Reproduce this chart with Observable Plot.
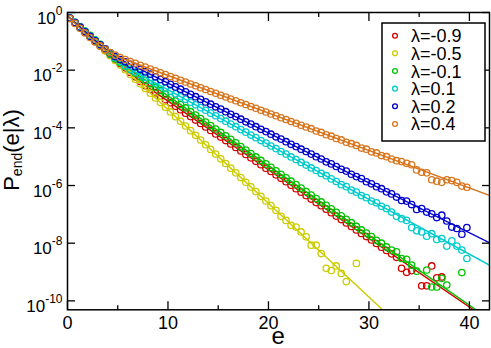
<!DOCTYPE html>
<html><head><meta charset="utf-8">
<script src="https://cdn.jsdelivr.net/npm/d3@7"></script>
<script src="https://cdn.jsdelivr.net/npm/@observablehq/plot@0.6"></script>
<style>body{margin:0;background:#fff} svg{display:block}</style>
</head><body><div id="chart"></div>
<script>
// bin centres of e
const eBins = [0.25,0.75,1.25,1.75,2.25,2.75,3.25,3.75,4.25,4.75,5.25,5.75,6.25,6.75,7.25,7.75,8.25,8.75,9.25,9.75,
 10.25,10.75,11.25,11.75,12.25,12.75,13.25,13.75,14.25,14.75,15.25,15.75,16.25,16.75,17.25,17.75,18.25,18.75,19.25,19.75,
 20.25,20.75,21.25,21.75,22.25,22.75,23.25,23.75,24.25,24.75,25.25,25.75,26.25,26.75,27.25,27.75,28.25,28.75,29.25,29.75,
 30.25,30.75,31.25,31.75,32.25,32.75,33.25,33.75,34.25,34.75,35.25,35.75,36.25,36.75,37.25,37.75,38.25,38.75,39.25,39.75];

const seriesNames = ["λ=-0.9","λ=-0.5","λ=-0.1","λ=0.1","λ=0.2","λ=0.4"];
const seriesColors = ["#d40000","#cccc00","#00c400","#00cccc","#0000cc","#d8761e"];

// log10 P_end values at eBins (null = no count)
const logP_m09 = [-0.20,-0.355,-0.51,-0.665,-0.82,-0.98,-1.14,-1.30,-1.46,-1.61,-1.77,-1.92,-2.08,-2.23,-2.39,-2.54,
 -2.66,-2.78,-2.90,-3.02,-3.13,-3.25,-3.37,-3.49,-3.61,-3.73,-3.85,-3.97,-4.09,-4.21,-4.32,-4.44,-4.56,-4.68,-4.80,-4.92,
 -5.04,-5.16,-5.28,-5.40,-5.51,-5.63,-5.75,-5.87,-5.99,-6.11,-6.23,-6.35,-6.47,-6.59,-6.70,-6.82,-6.94,-7.06,-7.18,-7.30,
 -7.42,-7.54,-7.66,-7.77,-7.89,-8.01,-8.14,-8.25,-8.37,-8.49,
 -8.87,-9.01,-8.95,null,-9.48,-9.48,-8.79,-9.20,-9.17,null,null,null,null,null];
const logP_m05 = [-0.198,-0.361,-0.523,-0.686,-0.848,-1.011,-1.173,-1.336,-1.498,-1.661,-1.823,-1.986,-2.148,-2.311,-2.473,
 -2.636,-2.798,-2.961,-3.123,-3.286,-3.448,-3.611,-3.773,-3.936,-4.098,-4.261,-4.423,-4.586,-4.748,-4.911,-5.073,-5.236,
 -5.398,-5.561,-5.723,-5.886,-6.048,-6.211,-6.373,-6.536,-6.698,-6.861,
 -7.07,-7.21,-7.38,-7.44,-7.61,-7.78,-8.07,-8.07,-8.36,-8.87,-8.95,-8.79,-9.05,-9.33,null,-8.70,
 null,null,null,null,null,null,null,null,null,null,null,null,null,null,null,null,null,null,null,null,null,null];
const logP_m01 = [-0.195,-0.345,-0.495,-0.645,-0.795,-0.95,-1.105,-1.26,-1.45,-1.60,
 -1.74,-1.86,-1.98,-2.10,-2.23,-2.35,-2.47,-2.59,-2.71,-2.83,-2.95,-3.07,-3.19,-3.31,-3.44,-3.56,-3.68,-3.80,-3.92,-4.04,
 -4.16,-4.28,-4.40,-4.52,-4.65,-4.77,-4.89,-5.01,-5.13,-5.25,-5.37,-5.49,-5.61,-5.73,-5.85,-5.97,-6.09,-6.21,-6.33,-6.45,
 -6.57,-6.69,-6.81,-6.93,-7.05,-7.17,-7.29,-7.42,-7.54,-7.65,-7.77,-7.90,-8.00,-8.13,
 -8.24,-8.30,-8.53,-8.56,-8.76,-8.97,null,-8.93,-9.52,-9.52,-9.22,-9.45,null,null,-9.02,null];
const logP_p01 = [-0.195,-0.345,-0.50,-0.655,-0.81,-0.965,-1.115,-1.265,-1.41,-1.56,-1.70,-1.85,
 -1.97,-2.06,-2.16,-2.25,-2.35,-2.44,-2.54,-2.63,-2.73,-2.82,-2.92,-3.01,-3.11,-3.20,-3.30,-3.39,-3.49,-3.58,-3.68,-3.77,
 -3.87,-3.96,-4.06,-4.15,-4.25,-4.34,-4.44,-4.53,-4.63,-4.72,-4.82,-4.91,-5.01,-5.10,-5.20,-5.29,-5.39,-5.48,-5.58,-5.66,
 -5.77,-5.86,-5.97,-6.04,-6.16,-6.23,-6.35,-6.42,-6.54,-6.60,-6.72,-6.80,
 -6.92,-7.07,-7.15,-7.21,-7.46,-7.57,-7.61,-7.76,-7.67,-7.87,-7.84,-8.10,-7.92,-8.10,-8.24,-8.53];
const logP_p02 = [-0.19,-0.35,-0.51,-0.67,-0.83,-0.98,-1.12,-1.26,-1.40,-1.53,-1.63,-1.71,
 -1.80,-1.88,-1.97,-2.06,-2.14,-2.23,-2.32,-2.40,-2.49,-2.58,-2.66,-2.75,-2.84,-2.92,-3.01,-3.10,-3.18,-3.27,-3.35,-3.44,
 -3.53,-3.61,-3.70,-3.79,-3.87,-3.96,-4.05,-4.13,-4.22,-4.31,-4.39,-4.48,-4.57,-4.65,-4.74,-4.82,-4.91,-5.00,-5.08,-5.18,
 -5.25,-5.34,-5.44,-5.50,-5.61,-5.69,-5.76,-5.87,-5.94,-6.04,-6.11,-6.22,
 -6.29,-6.40,-6.52,-6.54,-6.66,-6.83,-6.80,-6.92,-6.98,-7.11,-7.03,-7.23,-7.44,-7.49,-7.69,-7.46];
const logP_p04 = [-0.21,-0.38,-0.55,-0.71,-0.87,-1.02,-1.16,-1.28,-1.39,-1.48,-1.56,-1.63,
 -1.70,-1.76,-1.83,-1.89,-1.96,-2.02,-2.09,-2.15,-2.22,-2.28,-2.35,-2.41,-2.48,-2.54,-2.61,-2.67,-2.74,-2.80,-2.87,-2.93,
 -3.00,-3.06,-3.13,-3.19,-3.26,-3.32,-3.39,-3.45,-3.52,-3.58,-3.65,-3.71,-3.78,-3.84,-3.91,-3.97,-4.03,-4.11,-4.16,-4.24,
 -4.29,-4.37,-4.42,-4.50,-4.55,-4.61,-4.70,-4.74,-4.83,-4.87,-4.96,-5.00,
 -5.08,-5.14,-5.17,-5.23,-5.28,-5.46,-5.54,-5.56,-5.80,-5.85,-5.89,-5.80,-5.83,-5.89,-6.02,-6.06];

// fitted curves: knots (e) and log10 P
const fitE_m09 = [0,1,2,3,4,5,6,7,8,42];
const fitLog_m09 = [-0.12,-0.43,-0.74,-1.06,-1.38,-1.69,-2.00,-2.31,-2.598,-10.69];
const fitE_m05 = [0,42];
const fitLog_m05 = [-0.117,-13.767];
const fitE_m01 = [0,1,2,3,4,5,6,8,42];
const fitLog_m01 = [-0.12,-0.42,-0.72,-1.03,-1.37,-1.68,-1.922,-2.406,-10.634];
const fitE_p01 = [0,1,2,3,4,5,6,7,42];
const fitLog_p01 = [-0.12,-0.42,-0.73,-1.04,-1.34,-1.63,-1.92,-2.11,-8.76];
const fitE_p02 = [0,1,2,3,4,5,6,7,42];
const fitLog_p02 = [-0.12,-0.43,-0.75,-1.05,-1.33,-1.58,-1.754,-1.927,-7.982];
const fitE_p04 = [0,1,2,3,4,5,6,7,42];
const fitLog_p04 = [-0.13,-0.47,-0.80,-1.10,-1.345,-1.53,-1.665,-1.795,-6.345];

const xMajor = [0,10,20,30,40];
const xMinor = [5,15,25,35];
const yMajorExp = [0,-2,-4,-6,-8,-10];

const pointSets = [logP_m09, logP_m05, logP_m01, logP_p01, logP_p02, logP_p04];
const fitSets = [[fitE_m09,fitLog_m09],[fitE_m05,fitLog_m05],[fitE_m01,fitLog_m01],
                 [fitE_p01,fitLog_p01],[fitE_p02,fitLog_p02],[fitE_p04,fitLog_p04]];

const marks = [];
seriesNames.forEach((name, i) => {
  const pts = eBins.map((e, j) => ({e, P: pointSets[i][j] == null ? null : Math.pow(10, pointSets[i][j])}))
                   .filter(d => d.P != null);
  const [fe, fl] = fitSets[i];
  const fit = fe.map((e, j) => ({e, P: Math.pow(10, fl[j])}));
  marks.push(Plot.line(fit, {x: "e", y: "P", stroke: seriesColors[i], strokeWidth: 1.4, clip: true}));
  marks.push(Plot.dot(pts, {x: "e", y: "P", r: 3.2, stroke: seriesColors[i], strokeWidth: 1.3, fill: "none", clip: true}));
});

const yMajor = yMajorExp.map(k => Math.pow(10, k));

const chart = Plot.plot({
  width: 491, height: 348,
  marginLeft: 67, marginRight: 2, marginTop: 12, marginBottom: 38.7,
  x: {domain: [0, 42]},
  y: {type: "log", domain: [4.9e-11, 1]},
  style: {fontFamily: "'Liberation Sans', Arial, sans-serif", background: "white", color: "black"},
  marks: [
    ...marks,
    Plot.frame({stroke: "black", strokeWidth: 1.5}),
    Plot.axisX({anchor: "bottom", ticks: xMajor, tickSize: -8, tickFormat: () => "", label: null, strokeWidth: 1.3}),
    Plot.axisX({anchor: "bottom", ticks: xMinor, tickSize: -4, tickFormat: () => "", label: null, strokeWidth: 1.3}),
    Plot.axisX({anchor: "top", ticks: xMajor, tickSize: -8, tickFormat: () => "", label: null, strokeWidth: 1.3}),
    Plot.axisX({anchor: "top", ticks: xMinor, tickSize: -4, tickFormat: () => "", label: null, strokeWidth: 1.3}),
    Plot.axisY({anchor: "left", ticks: yMajor, tickSize: -8, tickFormat: () => "", label: null, strokeWidth: 1.3}),
    Plot.axisY({anchor: "right", ticks: yMajor, tickSize: -8, tickFormat: () => "", label: null, strokeWidth: 1.3}),
    Plot.axisX({anchor: "bottom", ticks: xMajor, tickSize: 0, tickPadding: 6, fontSize: 18, label: null}),
    Plot.axisY({anchor: "left", ticks: yMajor, tickSize: 0, tickPadding: 5, fontSize: 17, label: null,
                tickFormat: d => String(Math.round(Math.log10(d)))})
  ]
});
document.getElementById("chart").appendChild(chart);

const svg = d3.select(chart);
// superscript y tick labels
svg.selectAll('g[aria-label="y-axis tick label"] text').each(function() {
  const exp = this.textContent;
  if (exp === "") return;
  const t = d3.select(this);
  t.text(null).attr("y", 11);
  t.append("tspan").text("10");
  t.append("tspan").attr("dy", -9).attr("font-size", 12).text(exp);
});

const FONT = "'Liberation Sans', Arial, sans-serif";
// axis titles
svg.append("text").attr("x", 278.3).attr("y", 344).attr("text-anchor", "middle")
  .attr("font-family", FONT).attr("font-size", 24).attr("fill", "black").text("e");
const yl = svg.append("text").attr("transform", "translate(19,150) rotate(-90)").attr("text-anchor", "middle")
  .attr("font-family", FONT).attr("font-size", 22).attr("fill", "black");
yl.append("tspan").text("P");
yl.append("tspan").attr("font-size", 14).attr("dy", 3).text("end");
yl.append("tspan").attr("dy", -3).text("(e|λ)");

// legend
const lg = svg.append("g");
lg.append("rect").attr("x", 382).attr("y", 23).attr("width", 103).attr("height", 118)
  .attr("fill", "white").attr("stroke", "black").attr("stroke-width", 1.5);
seriesNames.forEach((name, i) => {
  const cy = 35.7 + 17.65 * i;
  lg.append("circle").attr("cx", 395).attr("cy", cy).attr("r", 2.4).attr("fill", "none")
    .attr("stroke", seriesColors[i]).attr("stroke-width", 1.3);
  lg.append("text").attr("x", 411).attr("y", cy + 6.5).attr("text-anchor", "start")
    .attr("font-family", FONT).attr("font-size", 18).attr("fill", "black").text(name);
});
</script>
</body></html>
